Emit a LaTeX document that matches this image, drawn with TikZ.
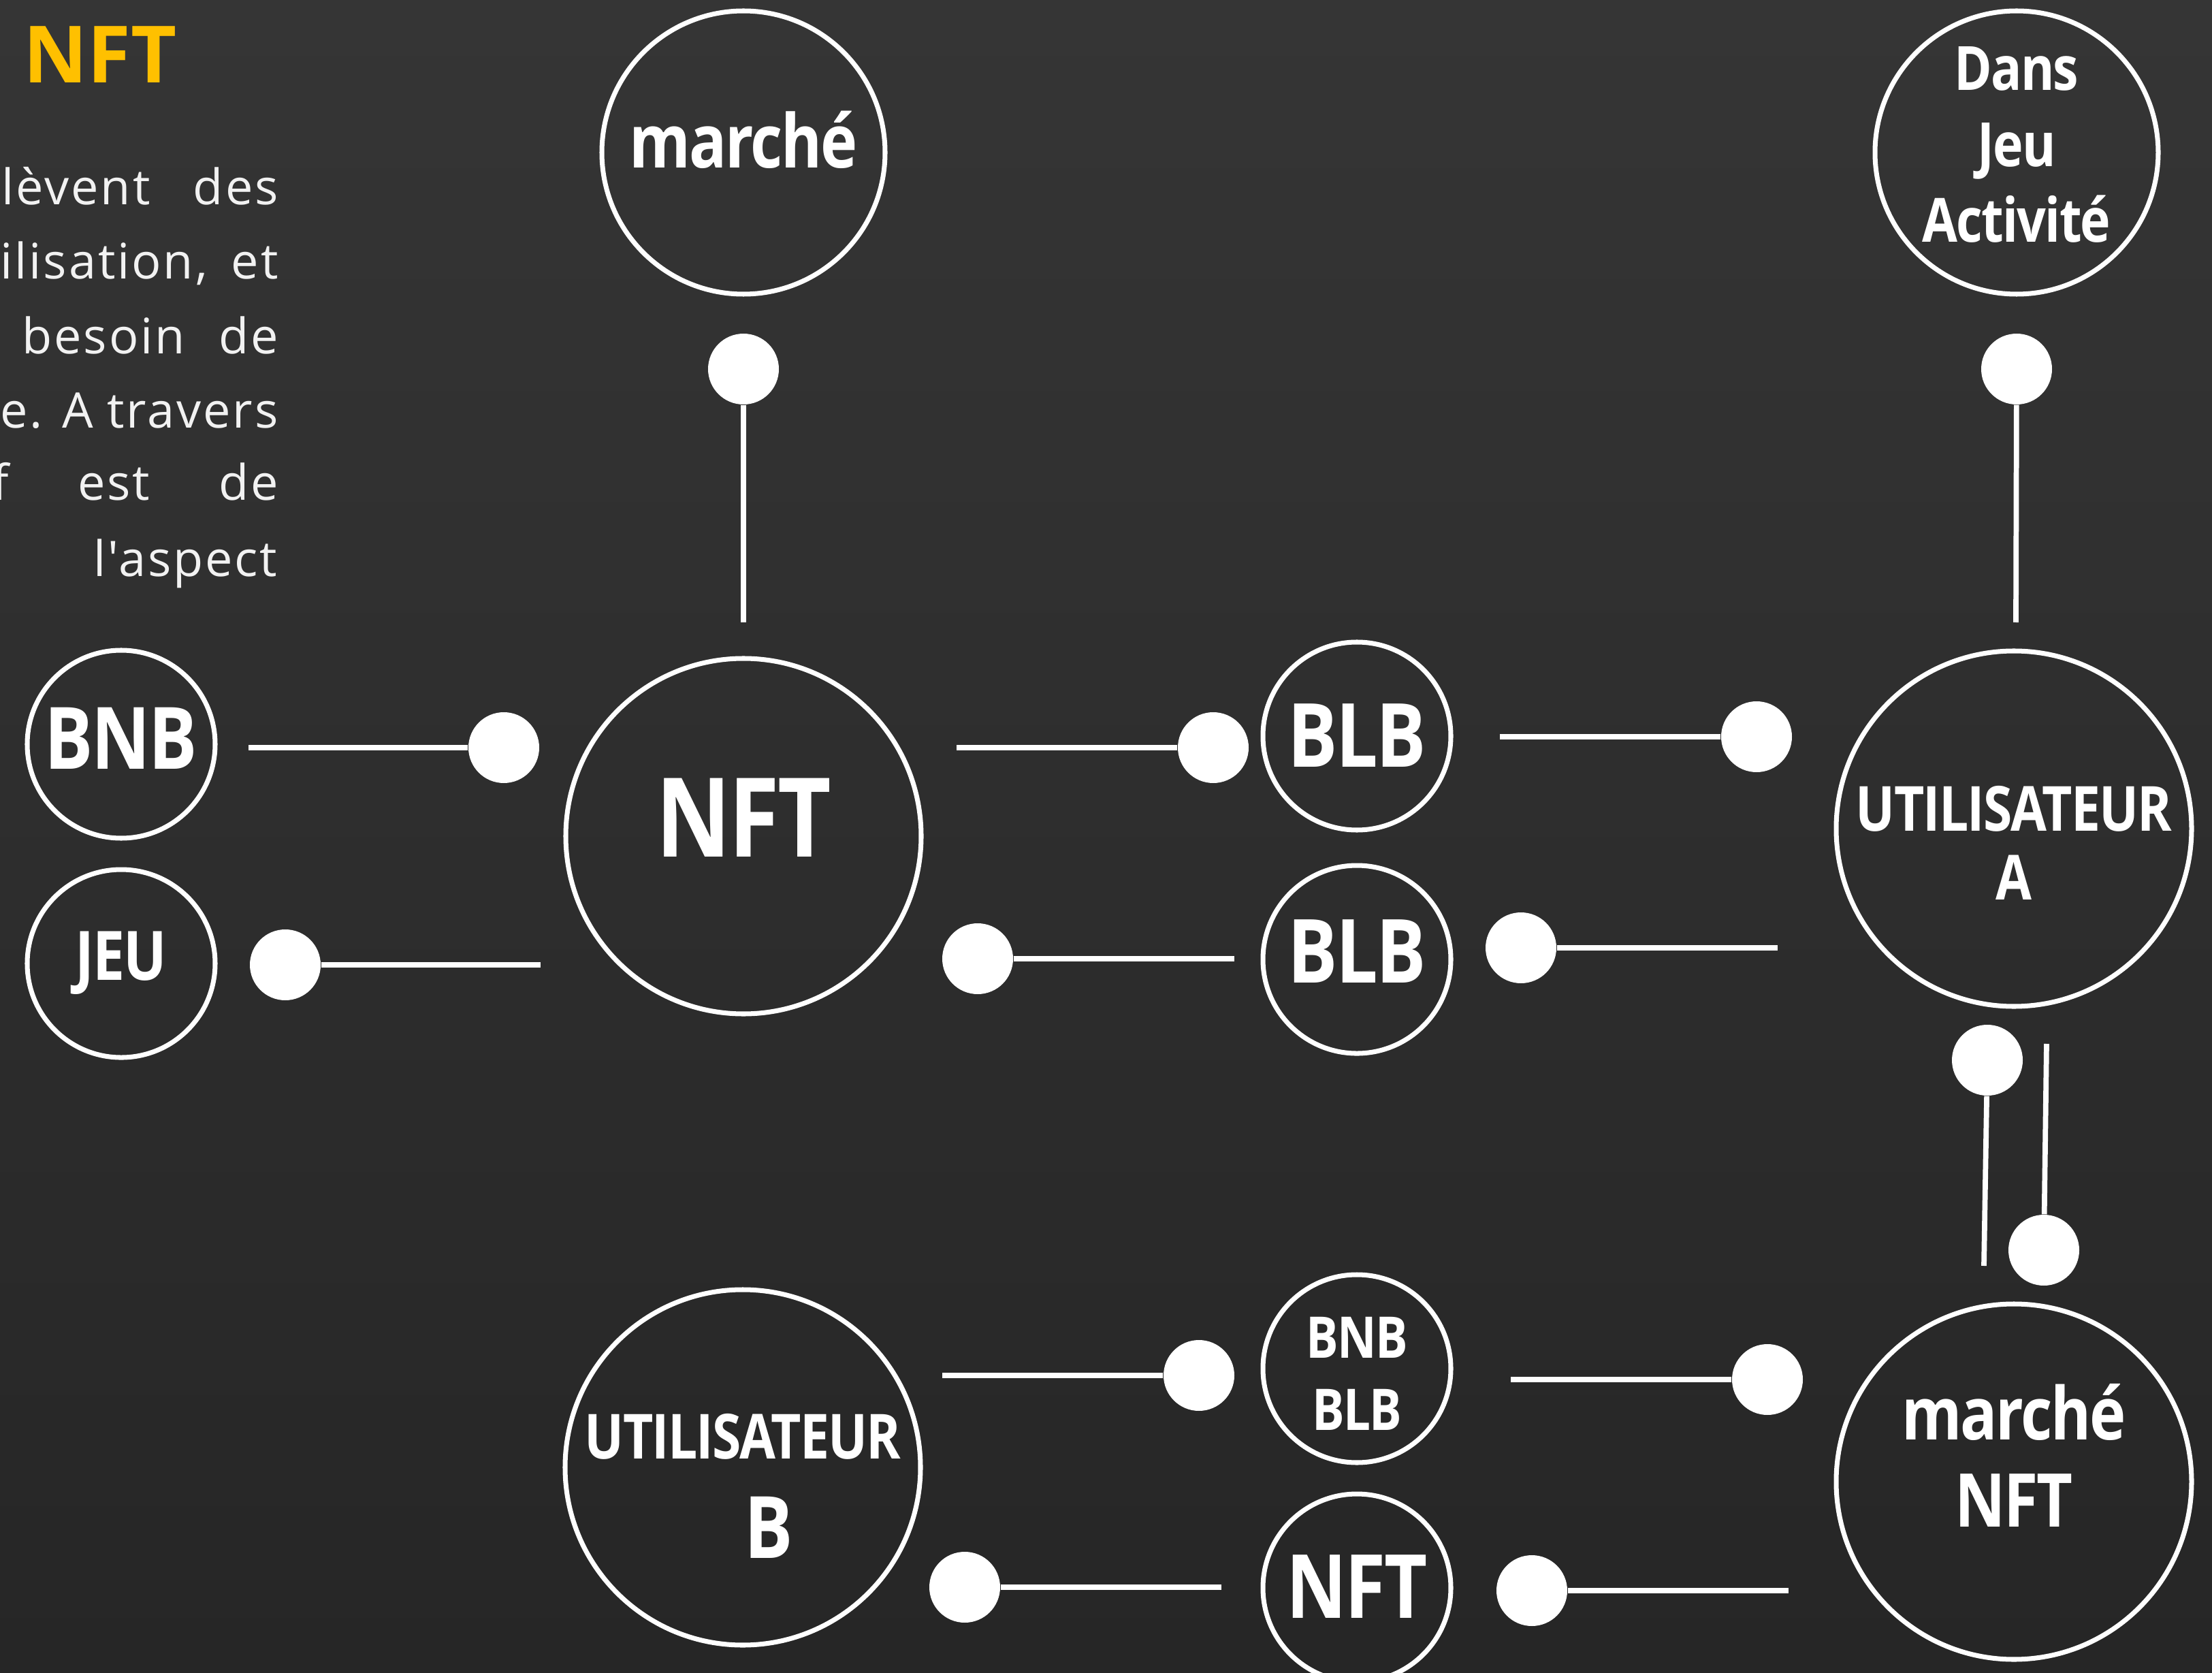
\documentclass[tikz,border=0pt]{standalone}
\usepackage{fontspec}
\setmainfont{Open Sans}
\newfontfamily\lblfont{Open Sans}[FakeStretch=0.84,LetterSpace=-2]
\newfontfamily\txtfont{Open Sans}[LetterSpace=4]
\usetikzlibrary{positioning}
\definecolor{bgtop}{HTML}{353535}
\definecolor{bgbot}{HTML}{262626}
\definecolor{titlegold}{HTML}{FFC000}
\newcommand{\fsz}[2]{\fontsize{#1}{#2}\selectfont}
% first baseline of the label sits #1 above the centre of its circle
\newcommand{\atbase}[2]{\raisebox{#1}[0pt][0pt]{\begin{tabular}[t]{@{}c@{}}#2\end{tabular}}}

\begin{document}
\begin{tikzpicture}
	\tikzstyle{main}=[circle, draw=white, line width=2pt, inner sep=0pt, text=white]
	\tikzstyle{big}=[main, minimum size=5.22cm]
	\tikzstyle{mid}=[main, minimum size=4.16cm]
	\tikzstyle{small}=[main, minimum size=2.76cm]
	\tikzstyle{ball}=[circle, fill=white, minimum size=1.04cm, inner sep=0pt]
	\tikzstyle{connect}=[draw=white, line width=2.2pt]
	\tikzstyle{para}=[anchor=base west, inner sep=0pt, text=white!95!black, font=\txtfont\fsz{20.5}{31}]
	
	\fill[top color=bgtop, bottom color=bgbot] (0,0) rectangle (32.49,-24.57);
	\useasboundingbox (0,0) rectangle (32.49,-24.57);
	
	% left text
	\node[anchor=base west, inner sep=0pt, text=titlegold, font=\bfseries\fsz{33}{36}] (title) at (0.34,-1.22) {NFT};
	\node[para] (l1) at (0.02,-3.01) {\makebox[4.06cm][s]{lèvent des}};
	\node[para] (l2) at (0,-4.10) {\makebox[4.08cm][s]{ilisation, et}};
	\node[para] (l3) at (0.32,-5.20) {\makebox[3.76cm][s]{besoin de}};
	\node[para] (l4) at (0,-6.29) {\makebox[4.08cm][s]{e. A travers}};
	\node[para] (l5) at (-0.12,-7.35) {\makebox[4.20cm][s]{f est de}};
	\node[para, anchor=base east] (l6) at (4.08,-8.47) {l'aspect};
	
	% circles
	\node[mid, font=\lblfont\bfseries\fsz{31}{36}] (mkt) at (10.92,-2.24) {\atbase{-0.23cm}{marché}};
	\node[mid, font=\lblfont\bfseries\fsz{25.5}{31.6}] (dans) at (29.62,-2.24) {\atbase{0.91cm}{Dans\\Jeu\\Activité}};
	\node[big, font=\lblfont\bfseries\fsz{46}{50}] (nft) at (10.92,-12.28) {\atbase{-0.30cm}{NFT}};
	\node[small, font=\lblfont\bfseries\fsz{36}{40}] (bnb) at (1.78,-10.93) {\atbase{-0.37cm}{BNB}};
	\node[small, font=\lblfont\bfseries\fsz{28.5}{32}] (jeu) [below=0.39cm of bnb] {\atbase{-0.24cm}{JEU}};
	\node[small, font=\lblfont\bfseries\fsz{37}{40}] (blba) at (19.93,-10.81) {\atbase{-0.45cm}{BLB}};
	\node[small, font=\lblfont\bfseries\fsz{37}{40}] (blbb) [below=0.45cm of blba] {\atbase{-0.34cm}{BLB}};
	\node[big, font=\lblfont\bfseries\fsz{26}{29}] (usera) at (29.58,-12.17) {\atbase{-0.03cm}{UTILISATEUR\\A}};
	\node[big, font=\lblfont\bfseries\fsz{26}{29}] (userb) at (10.91,-21.55) {\atbase{0.13cm}{UTILISATEUR\\[0.26cm]\hspace*{0.76cm}{\fsz{36}{40}B}}};
	\node[small, font=\lblfont\bfseries\fsz{24}{30.4}] (bnbblb) at (19.93,-20.10) {\atbase{0.16cm}{BNB\\BLB}};
	\node[small, font=\lblfont\bfseries\fsz{37}{40}] (nftb) [below=0.39cm of bnbblb] {\atbase{-0.44cm}{NFT}};
	\node[big, font=\lblfont\bfseries\fsz{30.5}{36.6}] (mktnft) at (29.58,-21.76) {\atbase{0.62cm}{marché\\{\fsz{31}{36.6}NFT}}};
	
	% balls and loose ends
	\node[ball] (b1) at (10.92,-5.42) {};
	\node[ball] (b2) at (29.62,-5.42) {};
	\node[ball] (b3) at (7.40,-10.98) {};
	\node[ball] (b4) at (4.19,-14.17) {};
	\node[ball] (b5) at (17.82,-10.98) {};
	\node[ball] (b6) at (14.36,-14.08) {};
	\node[ball] (b7) at (25.80,-10.82) {};
	\node[ball] (b8) at (22.34,-13.92) {};
	\node[ball] (b9) at (29.19,-15.57) {};
	\node[ball] (b10) at (30.02,-18.36) {};
	\node[ball] (b11) at (17.61,-20.20) {};
	\node[ball] (b12) at (25.96,-20.26) {};
	\node[ball] (b13) at (14.17,-23.31) {};
	\node[ball] (b14) at (22.50,-23.36) {};
	
	\coordinate (c1) at (10.92,-9.14);
	\coordinate (c2) at (29.61,-9.14);
	\coordinate (c3) at (3.65,-10.98);
	\coordinate (c4) at (7.94,-14.17);
	\coordinate (c5) at (14.05,-10.98);
	\coordinate (c6) at (18.13,-14.08);
	\coordinate (c7) at (22.03,-10.82);
	\coordinate (c8) at (26.11,-13.92);
	\coordinate (c9) at (29.14,-18.59);
	\coordinate (c10) at (30.06,-15.33);
	\coordinate (c11) at (13.84,-20.20);
	\coordinate (c12) at (22.19,-20.26);
	\coordinate (c13) at (17.94,-23.31);
	\coordinate (c14) at (26.27,-23.36);
	
	\path (b1) edge [connect] (c1)
	(b2) edge [connect] (c2)
	(c3) edge [connect] (b3)
	(b4) edge [connect] (c4)
	(c5) edge [connect] (b5)
	(b6) edge [connect] (c6)
	(c7) edge [connect] (b7)
	(b8) edge [connect] (c8)
	(b9) edge [connect] (c9)
	(b10) edge [connect] (c10)
	(c11) edge [connect] (b11)
	(c12) edge [connect] (b12)
	(b13) edge [connect] (c13)
	(b14) edge [connect] (c14);
	
\end{tikzpicture}
\end{document}
